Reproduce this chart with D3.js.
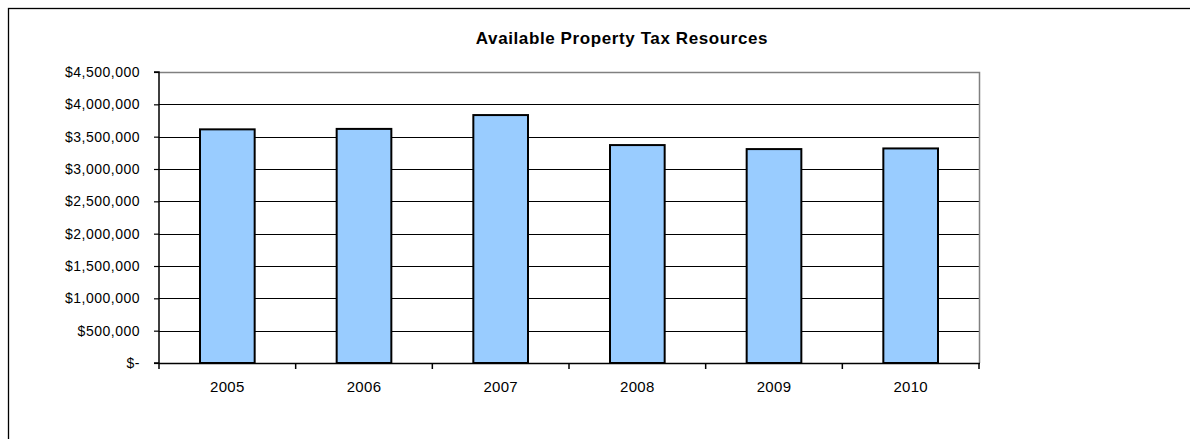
<!DOCTYPE html>
<html>
<head>
<meta charset="utf-8">
<script src="https://cdn.jsdelivr.net/npm/d3@7"></script>
<style>
  html, body { margin: 0; padding: 0; background: #fff; }
  svg { display: block; }
  text { font-family: Arial, "Liberation Sans", sans-serif; fill: #000; }
</style>
</head>
<body>
<svg id="chart" width="1190" height="439"></svg>
<script>
// Chart data
const years = ["2005", "2006", "2007", "2008", "2009", "2010"];
const resources = [3613000, 3620000, 3834000, 3370000, 3308000, 3318000];
const yTicks = [0, 500000, 1000000, 1500000, 2000000, 2500000, 3000000, 3500000, 4000000, 4500000];
const title = "Available Property Tax Resources";

const svg = d3.select("#chart");

// Plot area bounds
const plot = { left: 159, right: 979, top: 72, bottom: 363 };
// Chart frame (extends past the right and bottom of the view)
const frame = { left: 8, top: 8, right: 1236, bottom: 460 };

svg.append("rect")
  .attr("x", frame.left + 0.5).attr("y", frame.top + 0.5)
  .attr("width", frame.right - frame.left).attr("height", frame.bottom - frame.top)
  .attr("fill", "none").attr("stroke", "#000").attr("stroke-width", 1.3);

const x = d3.scaleBand()
  .domain(years)
  .range([plot.left, plot.right])
  .paddingInner(0.6)
  .paddingOuter(0.3);

const y = d3.scaleLinear()
  .domain([0, 4500000])
  .range([plot.bottom, plot.top]);

const fmt = v => v === 0 ? "$-" : "$" + d3.format(",")(v);

// Horizontal gridlines
svg.append("g")
  .selectAll("line")
  .data(yTicks.filter(v => v > 0 && v < 4500000))
  .join("line")
  .attr("x1", plot.left).attr("x2", plot.right)
  .attr("y1", d => Math.round(y(d)) + 0.5).attr("y2", d => Math.round(y(d)) + 0.5)
  .attr("stroke", "#000").attr("stroke-width", 1.2);

// Plot frame: gray top and right edges
svg.append("path")
  .attr("d", `M${plot.left},${plot.top + 0.5}H${plot.right + 0.5}V${plot.bottom}`)
  .attr("fill", "none").attr("stroke", "#808080").attr("stroke-width", 1.5);

// Bars
svg.append("g")
  .selectAll("rect")
  .data(years.map((yr, i) => ({ yr, v: resources[i] })))
  .join("rect")
  .attr("x", d => x(d.yr))
  .attr("y", d => y(d.v))
  .attr("width", x.bandwidth())
  .attr("height", d => y(0) - y(d.v))
  .attr("fill", "#99CCFF")
  .attr("stroke", "#000")
  .attr("stroke-width", 2);

// Y axis
const yAxis = d3.axisLeft(y)
  .tickValues(yTicks)
  .tickFormat(fmt)
  .tickSize(5)
  .tickPadding(14);

const gy = svg.append("g")
  .attr("transform", `translate(${plot.left},0)`)
  .call(yAxis);
gy.select(".domain").attr("stroke", "#000").attr("stroke-width", 1.5)
  .attr("d", `M-5,${plot.top}H0V${plot.bottom}H-5`);
gy.selectAll(".tick line").attr("stroke", "#000").attr("stroke-width", 1.2);
gy.selectAll(".tick text")
  .style("font-size", "14px")
  .style("letter-spacing", "0.5px")
  .attr("fill", "#000");

// X axis: ticks sit on category boundaries, labels centred under bars
const boundaries = d3.range(years.length + 1).map(i => plot.left + i * x.step());
const gx = svg.append("g");
gx.append("line")
  .attr("x1", plot.left).attr("x2", plot.right + 1)
  .attr("y1", plot.bottom + 0.5).attr("y2", plot.bottom + 0.5)
  .attr("stroke", "#000").attr("stroke-width", 1.5);
gx.selectAll("line.tk")
  .data(boundaries)
  .join("line")
  .attr("class", "tk")
  .attr("x1", d => d).attr("x2", d => d)
  .attr("y1", plot.bottom).attr("y2", plot.bottom + 6)
  .attr("stroke", "#000").attr("stroke-width", 1.5);
gx.selectAll("text")
  .data(years)
  .join("text")
  .attr("x", d => x(d) + x.bandwidth() / 2)
  .attr("y", 392)
  .attr("text-anchor", "middle")
  .style("font-size", "15px")
  .style("letter-spacing", "0.3px")
  .text(d => d);

// Title, centred on the chart frame
svg.append("text")
  .attr("x", (frame.left + frame.right) / 2)
  .attr("y", 44)
  .attr("text-anchor", "middle")
  .style("font-size", "17px")
  .style("font-weight", "bold")
  .style("letter-spacing", "0.6px")
  .text(title);
</script>
</body>
</html>
